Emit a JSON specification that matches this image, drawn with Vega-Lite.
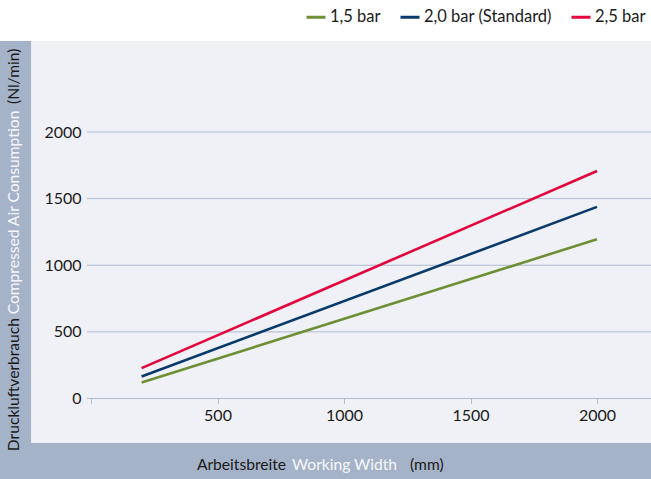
{
  "$schema": "https://vega.github.io/schema/vega-lite/v6.json",
  "width": 651,
  "height": 438,
  "autosize": {"type": "none"},
  "padding": {"left": 0, "top": 41, "right": 0, "bottom": 0},
  "background": "#ffffff",
  "view": {"fill": "#a5b3c9", "stroke": null},
  "config": {"font": "Lato", "text": {"font": "Lato"}},
  "data": {"values": [{}]},
  "datasets": {
    "lines": [
      {"width": 200, "consumption": 120, "pressure": "1,5 bar"},
      {"width": 2000, "consumption": 1195, "pressure": "1,5 bar"},
      {"width": 200, "consumption": 165, "pressure": "2,0 bar (Standard)"},
      {"width": 2000, "consumption": 1438, "pressure": "2,0 bar (Standard)"},
      {"width": 200, "consumption": 228, "pressure": "2,5 bar"},
      {"width": 2000, "consumption": 1707, "pressure": "2,5 bar"}
    ],
    "grid": [{"v": 0}, {"v": 500}, {"v": 1000}, {"v": 1500}, {"v": 2000}]
  },
  "layer": [
    {
      "mark": {"type": "rect", "fill": "#f0f1f6"},
      "encoding": {
        "x": {"datum": -237, "type": "quantitative", "scale": {"domain": [-359.7, 2213.4], "nice": false, "zero": false}},
        "x2": {"datum": 2213.4},
        "y": {"datum": -334, "type": "quantitative", "scale": {"domain": [-604, 2683], "nice": false, "zero": false}},
        "y2": {"datum": 2683}
      }
    },
    {
      "data": {"name": "grid"},
      "mark": {"type": "rule", "color": "#aebbd0", "strokeWidth": 1},
      "encoding": {
        "y": {"field": "v", "type": "quantitative", "scale": {"domain": [-604, 2683], "nice": false, "zero": false}},
        "x": {"datum": -16, "type": "quantitative", "scale": {"domain": [-359.7, 2213.4], "nice": false, "zero": false}},
        "x2": {"datum": 2213.4}
      }
    },
    {
      "data": {"name": "lines"},
      "mark": {"type": "line", "strokeWidth": 2.6},
      "encoding": {
        "x": {
          "field": "width", "type": "quantitative",
          "scale": {"domain": [-359.7, 2213.4], "nice": false, "zero": false},
          "axis": {
            "orient": "bottom", "offset": -80.5, "values": [0, 500, 1000, 1500, 2000],
            "format": "d", "labelExpr": "datum.value == 0 ? '' : datum.label", "zindex": 1,
            "domain": false, "grid": false, "ticks": true, "tickSize": 5, "tickColor": "#aebbd0",
            "labelFontSize": 16, "labelColor": "#1a1a1a", "labelPadding": 4, "title": null
          }
        },
        "y": {
          "field": "consumption", "type": "quantitative",
          "scale": {"domain": [-604, 2683], "nice": false, "zero": false},
          "axis": {
            "orient": "left", "offset": -87, "values": [0, 500, 1000, 1500, 2000], "zindex": 1,
            "format": "d", "domain": false, "grid": false, "ticks": false,
            "labelFontSize": 16, "labelColor": "#1a1a1a", "labelPadding": 6, "title": null
          }
        },
        "color": {
          "field": "pressure", "type": "nominal",
          "scale": {"domain": ["1,5 bar", "2,0 bar (Standard)", "2,5 bar"], "range": ["#6f8f36", "#0a3a6b", "#e3063e"]},
          "legend": {
            "orient": "none", "legendX": 305, "legendY": -35, "direction": "horizontal",
            "title": null, "symbolType": "stroke", "symbolSize": 361, "symbolStrokeWidth": 3,
            "labelFontSize": 16.5, "labelColor": "#1a1a1a", "labelOffset": 3, "columnPadding": 13, "padding": 0
          }
        }
      }
    },
    {
      "mark": {"type": "text", "text": "Arbeitsbreite", "align": "right", "baseline": "middle", "fontSize": 15.6, "color": "#1a1a1a"},
      "encoding": {
        "x": {"datum": 770.8, "type": "quantitative", "scale": {"domain": [-359.7, 2213.4], "nice": false, "zero": false}},
        "y": {"datum": -499, "type": "quantitative", "scale": {"domain": [-604, 2683], "nice": false, "zero": false}}
      }
    },
    {
      "mark": {"type": "text", "text": "Working Width", "align": "center", "baseline": "middle", "fontSize": 15.6, "color": "#f6f7fa"},
      "encoding": {
        "x": {"datum": 1002, "type": "quantitative", "scale": {"domain": [-359.7, 2213.4], "nice": false, "zero": false}},
        "y": {"datum": -499, "type": "quantitative", "scale": {"domain": [-604, 2683], "nice": false, "zero": false}}
      }
    },
    {
      "mark": {"type": "text", "text": "(mm)", "align": "left", "baseline": "middle", "fontSize": 15.6, "color": "#1a1a1a"},
      "encoding": {
        "x": {"datum": 1261, "type": "quantitative", "scale": {"domain": [-359.7, 2213.4], "nice": false, "zero": false}},
        "y": {"datum": -499, "type": "quantitative", "scale": {"domain": [-604, 2683], "nice": false, "zero": false}}
      }
    },
    {
      "mark": {"type": "text", "text": "Druckluftverbrauch", "angle": 270, "align": "right", "baseline": "middle", "fontSize": 15.6, "color": "#1a1a1a"},
      "encoding": {
        "x": {"datum": -304, "type": "quantitative", "scale": {"domain": [-359.7, 2213.4], "nice": false, "zero": false}},
        "y": {"datum": 604, "type": "quantitative", "scale": {"domain": [-604, 2683], "nice": false, "zero": false}}
      }
    },
    {
      "mark": {"type": "text", "text": "Compressed Air Consumption", "angle": 270, "align": "center", "baseline": "middle", "fontSize": 15.6, "color": "#f6f7fa"},
      "encoding": {
        "x": {"datum": -304, "type": "quantitative", "scale": {"domain": [-359.7, 2213.4], "nice": false, "zero": false}},
        "y": {"datum": 1396, "type": "quantitative", "scale": {"domain": [-604, 2683], "nice": false, "zero": false}}
      }
    },
    {
      "mark": {"type": "text", "text": "(Nl/min)", "angle": 270, "align": "left", "baseline": "middle", "fontSize": 15.6, "color": "#1a1a1a"},
      "encoding": {
        "x": {"datum": -304, "type": "quantitative", "scale": {"domain": [-359.7, 2213.4], "nice": false, "zero": false}},
        "y": {"datum": 2210, "type": "quantitative", "scale": {"domain": [-604, 2683], "nice": false, "zero": false}}
      }
    }
  ]
}
